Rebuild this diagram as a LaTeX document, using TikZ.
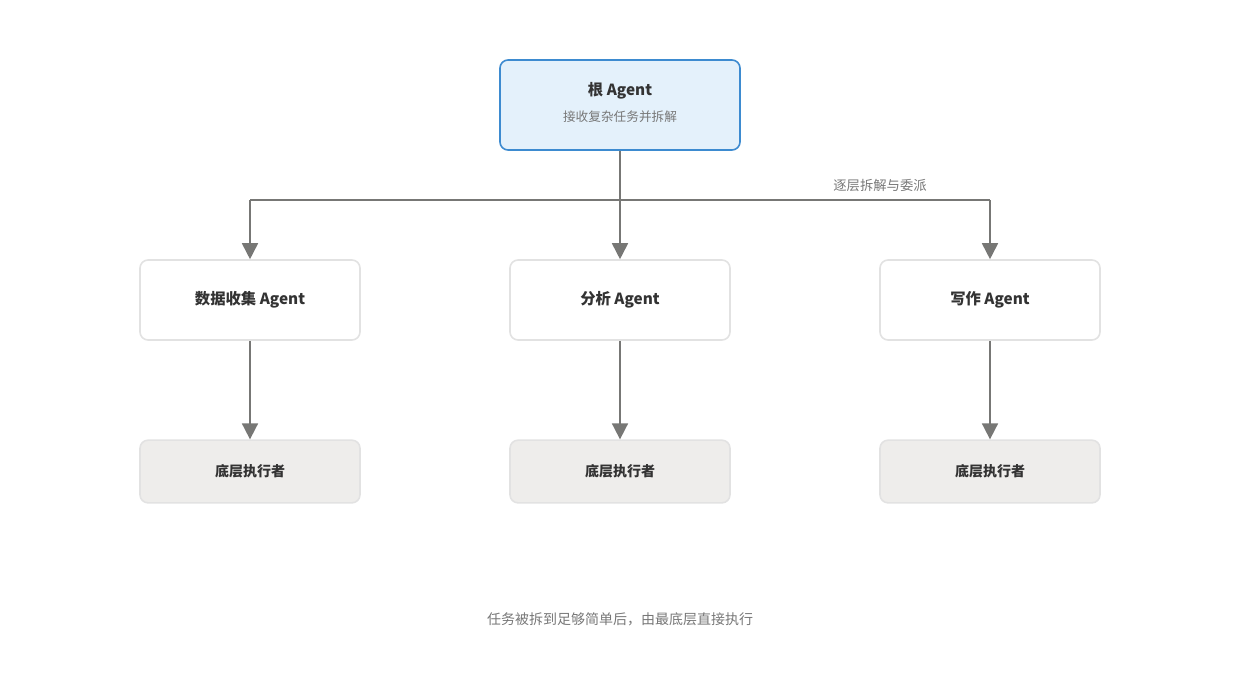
\documentclass[tikz,border=0pt]{standalone}
\usepackage{fontspec}
\setmainfont{Noto Sans CJK SC}
\usetikzlibrary{arrows.meta}
\definecolor{rootfill}{HTML}{E4F1FB}
\definecolor{rootline}{HTML}{3D8BD0}
\definecolor{boxline}{HTML}{E2E2E2}
\definecolor{leaffill}{HTML}{EEEDEB}
\definecolor{arrowgray}{HTML}{777775}
\definecolor{textdark}{HTML}{333333}
\definecolor{textgray}{HTML}{777777}
\begin{document}
\begin{tikzpicture}
[x=0.75pt, y=-0.75pt, line width=1.2pt,
root/.style={rectangle, rounded corners=6pt, draw=rootline, fill=rootfill, minimum width=180pt, minimum height=67.5pt},
agent/.style={rectangle, rounded corners=6pt, draw=boxline, fill=white, minimum width=165pt, minimum height=60pt, font=\bfseries\fontsize{11.5}{13}\selectfont, text=textdark},
leaf/.style={rectangle, rounded corners=6pt, draw=boxline, fill=leaffill, minimum width=165pt, minimum height=47pt, font=\bfseries\fontsize{10.5}{12}\selectfont, text=textdark},
link/.style={draw=arrowgray, line width=1.3pt},
arr/.style={link, -{Triangle[length=12pt, width=12pt]}},
note/.style={text=textgray, font=\fontsize{10}{12}\selectfont}]

\useasboundingbox (0,0) rectangle (1240,700);

\node[root] (root) at (620,105) {};
\node[font=\bfseries\fontsize{11.5}{13}\selectfont, text=textdark] (roottitle) at (620,91) {根 Agent};
\node[font=\fontsize{9.5}{11}\selectfont, text=textgray] (rootsub) at (620,117) {接收复杂任务并拆解};

\node[agent] (collect) at (250,300) {数据收集 Agent};
\node[agent] (analyze) at (620,300) {分析 Agent};
\node[agent] (write) at (990,300) {写作 Agent};

\node[leaf] (leaf1) at (250,471.5) {底层执行者};
\node[leaf] (leaf2) at (620,471.5) {底层执行者};
\node[leaf] (leaf3) at (990,471.5) {底层执行者};

\coordinate (split) at (620,200);
\coordinate (splitl) at (250,200);
\coordinate (splitr) at (990,200);

\draw[link] (root.south) -- (split);
\draw[link] (splitl) -- (splitr);
\draw[arr] (splitl) -- (collect.north);
\draw[arr] (split) -- (analyze.north);
\draw[arr] (splitr) -- (write.north);
\node[note] (delegate) at (880,185) {逐层拆解与委派};

\draw[arr] (collect.south) -- (leaf1.north);
\draw[arr] (analyze.south) -- (leaf2.north);
\draw[arr] (write.south) -- (leaf3.north);

\node[note, font=\fontsize{10.5}{12}\selectfont] (caption) at (620,619) {任务被拆到足够简单后，由最底层直接执行};

\end{tikzpicture}
\end{document}
